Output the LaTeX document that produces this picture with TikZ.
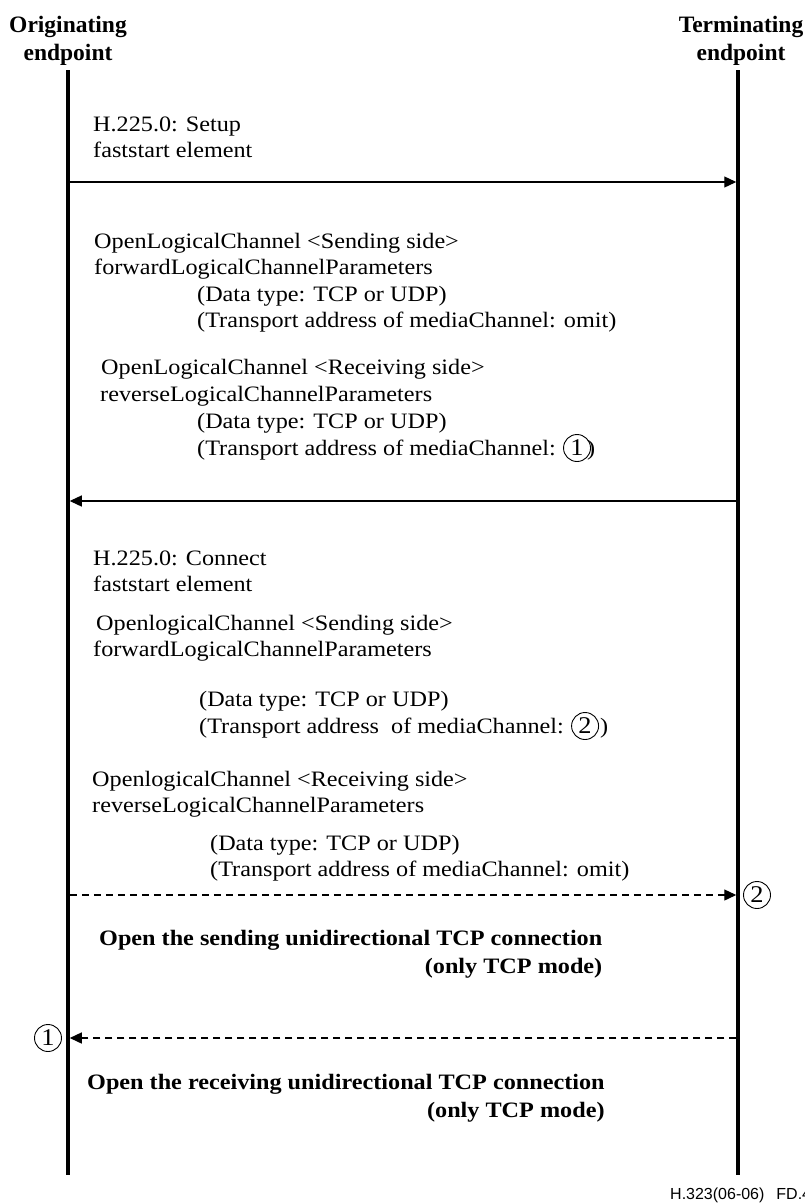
\documentclass[tikz,border=0pt]{standalone}
\usepackage{fontspec}
\setmainfont{Liberation Serif}[FakeStretch=1.1]
\newfontfamily\hdrfont{Liberation Serif}
\newfontfamily\footfont{Liberation Sans}
\usetikzlibrary{arrows.meta}
\begin{document}
\begin{tikzpicture}[x=1pt,y=-1pt,
  txt/.style={anchor=base west, inner sep=0pt, font=\fontsize{22}{26}\selectfont},
  btxt/.style={anchor=base west, inner sep=0pt, font=\bfseries\fontsize{22}{26}\selectfont},
  hdr/.style={anchor=base, inner sep=0pt, font=\hdrfont\bfseries\fontsize{23.5}{28}\selectfont},
  circ/.style={circle, draw, line width=0.9pt, inner sep=0pt, minimum size=27pt, font=\fontsize{24}{24}\selectfont},
  life/.style={line width=3.5pt},
  msg/.style={line width=1.3pt, shorten >=1.75pt, shorten <=1.75pt, -{Triangle[length=12pt,width=11pt]}},
  dmsg/.style={msg, dash pattern=on 7pt off 5pt}]
\useasboundingbox (0,0) rectangle (805,1203);

% headers
\node[hdr] (h1) at (68,32) {Originating};
\node[hdr] (h2) at (68,60) {endpoint};
\node[hdr] (h3) at (741,32) {Terminating};
\node[hdr] (h4) at (741,60) {endpoint};

% lifelines
\coordinate (oT) at (68,70);  \coordinate (oB) at (68,1175);
\coordinate (tT) at (738,70); \coordinate (tB) at (738,1175);
\draw[life] (oT) -- (oB);
\draw[life] (tT) -- (tB);

% message points
\coordinate (a1) at (68,182);  \coordinate (b1) at (738,182);
\coordinate (a2) at (68,501);  \coordinate (b2) at (738,501);
\coordinate (a3) at (68,895);  \coordinate (b3) at (738,895);
\coordinate (a4) at (68,1038); \coordinate (b4) at (738,1038);

\draw[msg] (a1) -- (b1);
\draw[msg] (b2) -- (a2);
\draw[dmsg] (a3) -- (b3);
\draw[dmsg] (b4) -- (a4);

\node[circ] (c2r) at (757,895) {2};
\node[circ] (c1l) at (48,1038) {1};

% group 1
\node[txt] (s1) at (93,131) {H.225.0: Setup};
\node[txt] (s2) at (93,157) {faststart element};

% group 2
\node[txt] (g1) at (94,248) {OpenLogicalChannel <Sending side>};
\node[txt] (g2) at (94,274) {forwardLogicalChannelParameters};
\node[txt] (g3) at (197,301) {(Data type: TCP or UDP)};
\node[txt] (g4) at (197,327) {(Transport address of mediaChannel: omit)};

% group 3
\node[txt] (r1) at (101,374) {OpenLogicalChannel <Receiving side>};
\node[txt] (r2) at (100,401) {reverseLogicalChannelParameters};
\node[txt] (r3) at (197,428) {(Data type: TCP or UDP)};
\node[txt] (r4) at (197,455) {(Transport address of mediaChannel:};
\node[circ, anchor=west] (c1i) at ([xshift=7pt, yshift=7pt]r4.base east) {1};
\node[txt] (r5) at ([xshift=-4pt]c1i.east |- r4.base) {)};

% group 4
\node[txt] (k1) at (93,565) {H.225.0: Connect};
\node[txt] (k2) at (93,591) {faststart element};
\node[txt] (k3) at (96,630) {OpenlogicalChannel <Sending side>};
\node[txt] (k4) at (93,656) {forwardLogicalChannelParameters};
\node[txt] (k5) at (199,706) {(Data type: TCP or UDP)};
\node[txt] (k6) at (199,733) {(Transport address\ \ of mediaChannel:};
\node[circ, anchor=west] (c2i) at ([xshift=7pt, yshift=7pt]k6.base east) {2};
\node[txt] (k7) at ([xshift=1pt]c2i.east |- k6.base) {)};

% group 5
\node[txt] (q1) at (92,786) {OpenlogicalChannel <Receiving side>};
\node[txt] (q2) at (92,812) {reverseLogicalChannelParameters};
\node[txt] (q3) at (210,850) {(Data type: TCP or UDP)};
\node[txt] (q4) at (210,876) {(Transport address of mediaChannel: omit)};

% bold notes
\node[btxt] (o1) at (99,945) {Open the sending unidirectional TCP connection};
\node[btxt, anchor=base east] (o2) at (o1.base east |- 0,973) {(only TCP mode)};
\node[btxt] (o3) at (87,1089) {Open the receiving unidirectional TCP connection};
\node[btxt, anchor=base east] (o4) at (o3.base east |- 0,1117) {(only TCP mode)};

% footer
\node[anchor=base west, inner sep=0pt, font=\footfont\fontsize{16}{16}\selectfont] (ft) at (670,1199) {H.323(06-06)\hspace{12pt}FD.4};
\end{tikzpicture}
\end{document}
